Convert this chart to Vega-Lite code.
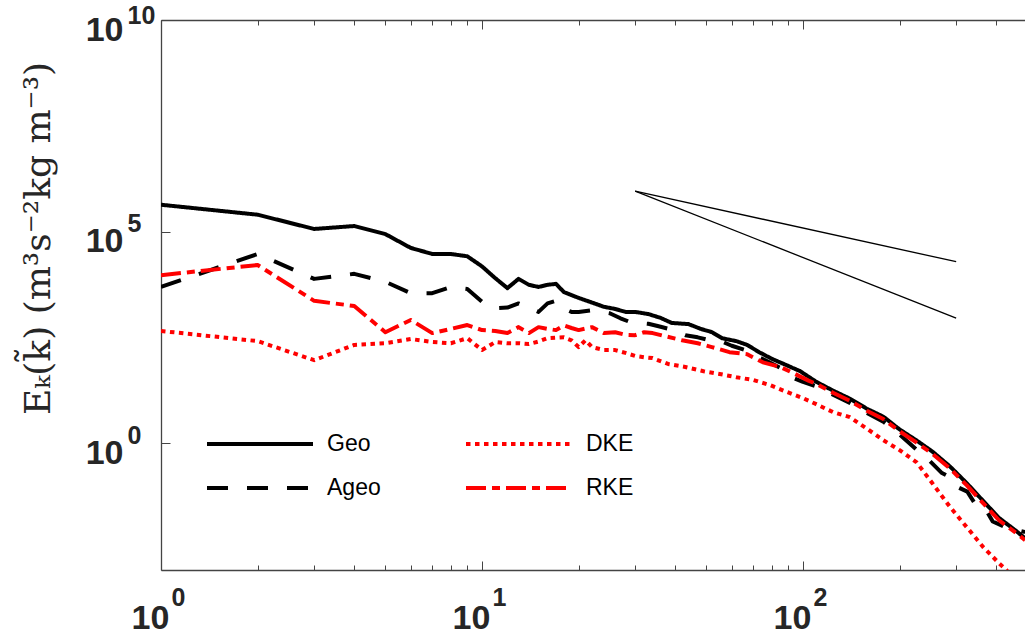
{
  "$schema": "https://vega.github.io/schema/vega-lite/v6.json",
  "width": 864,
  "height": 550,
  "autosize": {"type": "none"},
  "padding": {"left": 161, "top": 20, "right": 0, "bottom": 70},
  "background": "white",
  "config": {"view": {"stroke": null}, "axis": {"grid": false}},
  "datasets": {
    "spectra": [
      {"series": "Geo", "k": 1, "E": 430000}, {"series": "Geo", "k": 2, "E": 250000}, {"series": "Geo", "k": 3, "E": 115000},
      {"series": "Geo", "k": 4, "E": 135000}, {"series": "Geo", "k": 5, "E": 87000}, {"series": "Geo", "k": 6, "E": 41000},
      {"series": "Geo", "k": 7, "E": 29500}, {"series": "Geo", "k": 8, "E": 29500}, {"series": "Geo", "k": 9, "E": 26000},
      {"series": "Geo", "k": 10, "E": 15000}, {"series": "Geo", "k": 11, "E": 7900}, {"series": "Geo", "k": 12, "E": 4600},
      {"series": "Geo", "k": 13, "E": 7600}, {"series": "Geo", "k": 14, "E": 5500}, {"series": "Geo", "k": 15, "E": 4900},
      {"series": "Geo", "k": 16, "E": 5500}, {"series": "Geo", "k": 17, "E": 5800}, {"series": "Geo", "k": 18, "E": 3700},
      {"series": "Geo", "k": 20, "E": 2700}, {"series": "Geo", "k": 22, "E": 2100}, {"series": "Geo", "k": 24, "E": 1660},
      {"series": "Geo", "k": 26, "E": 1480}, {"series": "Geo", "k": 28, "E": 1260}, {"series": "Geo", "k": 30, "E": 1260},
      {"series": "Geo", "k": 33, "E": 1120}, {"series": "Geo", "k": 36, "E": 910}, {"series": "Geo", "k": 39, "E": 690},
      {"series": "Geo", "k": 44, "E": 650}, {"series": "Geo", "k": 48, "E": 500}, {"series": "Geo", "k": 52, "E": 420},
      {"series": "Geo", "k": 56, "E": 300}, {"series": "Geo", "k": 62, "E": 257}, {"series": "Geo", "k": 67, "E": 209},
      {"series": "Geo", "k": 73, "E": 141}, {"series": "Geo", "k": 80, "E": 98}, {"series": "Geo", "k": 89, "E": 69},
      {"series": "Geo", "k": 98, "E": 50}, {"series": "Geo", "k": 110, "E": 28}, {"series": "Geo", "k": 124, "E": 17.4},
      {"series": "Geo", "k": 140, "E": 11.2}, {"series": "Geo", "k": 158, "E": 6.5}, {"series": "Geo", "k": 178, "E": 4.2},
      {"series": "Geo", "k": 200, "E": 2.1}, {"series": "Geo", "k": 226, "E": 1.15}, {"series": "Geo", "k": 253, "E": 0.63},
      {"series": "Geo", "k": 287, "E": 0.28}, {"series": "Geo", "k": 324, "E": 0.112}, {"series": "Geo", "k": 364, "E": 0.043},
      {"series": "Geo", "k": 408, "E": 0.017}, {"series": "Geo", "k": 462, "E": 0.0083}, {"series": "Geo", "k": 492, "E": 0.0056},

      {"series": "Ageo", "k": 1, "E": 4900}, {"series": "Ageo", "k": 2, "E": 29500}, {"series": "Ageo", "k": 3, "E": 7600},
      {"series": "Ageo", "k": 4, "E": 10000}, {"series": "Ageo", "k": 5, "E": 6500}, {"series": "Ageo", "k": 6, "E": 3500},
      {"series": "Ageo", "k": 7, "E": 3500}, {"series": "Ageo", "k": 8, "E": 4900}, {"series": "Ageo", "k": 9, "E": 4400},
      {"series": "Ageo", "k": 10, "E": 2200}, {"series": "Ageo", "k": 11, "E": 1550}, {"series": "Ageo", "k": 12, "E": 1600},
      {"series": "Ageo", "k": 13, "E": 2000}, {"series": "Ageo", "k": 14, "E": 1600}, {"series": "Ageo", "k": 15, "E": 1260},
      {"series": "Ageo", "k": 16, "E": 2000}, {"series": "Ageo", "k": 17, "E": 2300}, {"series": "Ageo", "k": 18, "E": 1500},
      {"series": "Ageo", "k": 19, "E": 1260}, {"series": "Ageo", "k": 20, "E": 1260}, {"series": "Ageo", "k": 22, "E": 1380},
      {"series": "Ageo", "k": 25, "E": 1170}, {"series": "Ageo", "k": 27, "E": 890}, {"series": "Ageo", "k": 29, "E": 720},
      {"series": "Ageo", "k": 33, "E": 660}, {"series": "Ageo", "k": 36, "E": 560}, {"series": "Ageo", "k": 39, "E": 480},
      {"series": "Ageo", "k": 43, "E": 355}, {"series": "Ageo", "k": 47, "E": 316}, {"series": "Ageo", "k": 51, "E": 270},
      {"series": "Ageo", "k": 55, "E": 263}, {"series": "Ageo", "k": 60, "E": 200}, {"series": "Ageo", "k": 66, "E": 158},
      {"series": "Ageo", "k": 72, "E": 112}, {"series": "Ageo", "k": 78, "E": 83}, {"series": "Ageo", "k": 85, "E": 60},
      {"series": "Ageo", "k": 93, "E": 35}, {"series": "Ageo", "k": 100, "E": 28}, {"series": "Ageo", "k": 110, "E": 22},
      {"series": "Ageo", "k": 124, "E": 14}, {"series": "Ageo", "k": 140, "E": 8.9}, {"series": "Ageo", "k": 158, "E": 5.2},
      {"series": "Ageo", "k": 178, "E": 3.2}, {"series": "Ageo", "k": 200, "E": 1.6}, {"series": "Ageo", "k": 226, "E": 0.7},
      {"series": "Ageo", "k": 245, "E": 0.42}, {"series": "Ageo", "k": 270, "E": 0.2}, {"series": "Ageo", "k": 290, "E": 0.15},
      {"series": "Ageo", "k": 305, "E": 0.089}, {"series": "Ageo", "k": 325, "E": 0.071}, {"series": "Ageo", "k": 345, "E": 0.035},
      {"series": "Ageo", "k": 370, "E": 0.028}, {"series": "Ageo", "k": 390, "E": 0.014}, {"series": "Ageo", "k": 425, "E": 0.0105},
      {"series": "Ageo", "k": 460, "E": 0.0089}, {"series": "Ageo", "k": 492, "E": 0.0079},

      {"series": "DKE", "k": 1, "E": 447}, {"series": "DKE", "k": 2, "E": 257}, {"series": "DKE", "k": 3, "E": 91},
      {"series": "DKE", "k": 4, "E": 209}, {"series": "DKE", "k": 5, "E": 229}, {"series": "DKE", "k": 6, "E": 288},
      {"series": "DKE", "k": 7, "E": 245}, {"series": "DKE", "k": 8, "E": 229}, {"series": "DKE", "k": 9, "E": 302},
      {"series": "DKE", "k": 10, "E": 158}, {"series": "DKE", "k": 11, "E": 245}, {"series": "DKE", "k": 12, "E": 229},
      {"series": "DKE", "k": 13, "E": 229}, {"series": "DKE", "k": 14, "E": 219}, {"series": "DKE", "k": 15, "E": 251},
      {"series": "DKE", "k": 16, "E": 302}, {"series": "DKE", "k": 18, "E": 316}, {"series": "DKE", "k": 19, "E": 269},
      {"series": "DKE", "k": 20, "E": 186}, {"series": "DKE", "k": 21, "E": 269}, {"series": "DKE", "k": 22, "E": 186},
      {"series": "DKE", "k": 24, "E": 158}, {"series": "DKE", "k": 26, "E": 158}, {"series": "DKE", "k": 28, "E": 135},
      {"series": "DKE", "k": 30, "E": 115}, {"series": "DKE", "k": 32, "E": 107}, {"series": "DKE", "k": 34, "E": 102},
      {"series": "DKE", "k": 38, "E": 74}, {"series": "DKE", "k": 43, "E": 63}, {"series": "DKE", "k": 49, "E": 50},
      {"series": "DKE", "k": 55, "E": 43}, {"series": "DKE", "k": 62, "E": 36}, {"series": "DKE", "k": 70, "E": 31},
      {"series": "DKE", "k": 79, "E": 23.4}, {"series": "DKE", "k": 89, "E": 16.2}, {"series": "DKE", "k": 100, "E": 11.5},
      {"series": "DKE", "k": 110, "E": 8.3}, {"series": "DKE", "k": 124, "E": 5.4}, {"series": "DKE", "k": 140, "E": 4.1},
      {"series": "DKE", "k": 158, "E": 2.2}, {"series": "DKE", "k": 178, "E": 1.17}, {"series": "DKE", "k": 200, "E": 0.68},
      {"series": "DKE", "k": 226, "E": 0.35}, {"series": "DKE", "k": 253, "E": 0.112}, {"series": "DKE", "k": 287, "E": 0.031},
      {"series": "DKE", "k": 324, "E": 0.0102}, {"series": "DKE", "k": 364, "E": 0.0035}, {"series": "DKE", "k": 408, "E": 0.00145},
      {"series": "DKE", "k": 430, "E": 0.001}, {"series": "DKE", "k": 450, "E": 0.00063},

      {"series": "RKE", "k": 1, "E": 9300}, {"series": "RKE", "k": 2, "E": 16200}, {"series": "RKE", "k": 3, "E": 2300},
      {"series": "RKE", "k": 4, "E": 1740}, {"series": "RKE", "k": 5, "E": 417}, {"series": "RKE", "k": 6, "E": 813},
      {"series": "RKE", "k": 7, "E": 398}, {"series": "RKE", "k": 8, "E": 500}, {"series": "RKE", "k": 9, "E": 617},
      {"series": "RKE", "k": 10, "E": 468}, {"series": "RKE", "k": 11, "E": 447}, {"series": "RKE", "k": 12, "E": 398},
      {"series": "RKE", "k": 13, "E": 550}, {"series": "RKE", "k": 14, "E": 398}, {"series": "RKE", "k": 15, "E": 550},
      {"series": "RKE", "k": 16, "E": 500}, {"series": "RKE", "k": 17, "E": 468}, {"series": "RKE", "k": 18, "E": 603},
      {"series": "RKE", "k": 19, "E": 525}, {"series": "RKE", "k": 20, "E": 468}, {"series": "RKE", "k": 22, "E": 550},
      {"series": "RKE", "k": 24, "E": 398}, {"series": "RKE", "k": 26, "E": 417}, {"series": "RKE", "k": 28, "E": 363},
      {"series": "RKE", "k": 30, "E": 355}, {"series": "RKE", "k": 32, "E": 417}, {"series": "RKE", "k": 34, "E": 398},
      {"series": "RKE", "k": 37, "E": 339}, {"series": "RKE", "k": 42, "E": 269}, {"series": "RKE", "k": 47, "E": 229},
      {"series": "RKE", "k": 52, "E": 186}, {"series": "RKE", "k": 59, "E": 141}, {"series": "RKE", "k": 67, "E": 126},
      {"series": "RKE", "k": 75, "E": 81}, {"series": "RKE", "k": 85, "E": 63}, {"series": "RKE", "k": 95, "E": 42},
      {"series": "RKE", "k": 104, "E": 30}, {"series": "RKE", "k": 110, "E": 25}, {"series": "RKE", "k": 124, "E": 15.5},
      {"series": "RKE", "k": 140, "E": 10}, {"series": "RKE", "k": 158, "E": 5.8}, {"series": "RKE", "k": 178, "E": 3.7},
      {"series": "RKE", "k": 200, "E": 1.9}, {"series": "RKE", "k": 226, "E": 1.02}, {"series": "RKE", "k": 253, "E": 0.56},
      {"series": "RKE", "k": 287, "E": 0.25}, {"series": "RKE", "k": 324, "E": 0.1}, {"series": "RKE", "k": 364, "E": 0.038},
      {"series": "RKE", "k": 408, "E": 0.015}, {"series": "RKE", "k": 462, "E": 0.0074}, {"series": "RKE", "k": 492, "E": 0.0051}
    ],
    "slope53": [
      {"slope": "k^-5/3", "k": 30, "E": 900000}, {"slope": "k^-5/3", "k": 300, "E": 19400}
    ],
    "slope3": [
      {"slope": "k^-3", "k": 30, "E": 900000}, {"slope": "k^-3", "k": 300, "E": 900}
    ]
  },
  "layer": [
    {
      "data": {"name": "spectra"},
      "mark": {"type": "line", "strokeWidth": 4, "clip": true, "strokeJoin": "round"},
      "encoding": {
        "x": {
          "field": "k", "type": "quantitative",
          "scale": {"type": "log", "domain": [1, 491.6], "nice": false},
          "axis": {
            "orient": "bottom", "title": null,
            "values": [1, 2, 3, 4, 5, 6, 7, 8, 9, 10, 20, 30, 40, 50, 60, 70, 80, 90, 100, 200, 300, 400],
            "labelExpr": "datum.value == 1 || datum.value == 10 || datum.value == 100 ? '10' : ''",
            "tickSize": {"condition": {"test": "datum.value == 1 || datum.value == 10 || datum.value == 100", "value": -9}, "value": -5},
            "tickColor": "#444", "tickWidth": 1, "domainColor": "#444", "domainWidth": 1.3,
            "labelFont": "Liberation Sans", "labelFontWeight": "bold", "labelFontSize": 34, "labelColor": "#262626",
            "labelAlign": "center", "labelBaseline": "alphabetic", "labelPadding": 67, "labelOffset": -11,
            "labelOverlap": false, "labelFlush": false, "labelBound": false
          }
        },
        "y": {
          "field": "E", "type": "quantitative",
          "scale": {"type": "log", "domain": [0.001, 10000000000], "nice": false},
          "axis": {
            "orient": "left",
            "title": "Eₖ(k̃)  (m³s⁻²kg m⁻³)",
            "titleFont": "DejaVu Serif", "titleFontSize": 36, "titleFontWeight": "normal", "titleColor": "#262626",
            "titleX": -123, "titleY": 218, "titleAngle": -90, "titleAlign": "center", "titleBaseline": "middle",
            "values": [1, 100000, 10000000000],
            "labelExpr": "'10'",
            "tickSize": -9, "tickColor": "#444", "tickWidth": 1, "domainColor": "#444", "domainWidth": 1.3,
            "labelFont": "Liberation Sans", "labelFontWeight": "bold", "labelFontSize": 34, "labelColor": "#262626",
            "labelAlign": "right", "labelBaseline": "alphabetic", "labelPadding": 47, "labelOffset": 20,
            "labelOverlap": false, "labelFlush": false, "labelBound": false
          }
        },
        "color": {
          "field": "series", "type": "nominal",
          "scale": {"domain": ["Geo", "Ageo", "DKE", "RKE"], "range": ["#000000", "#000000", "#ff0000", "#ff0000"]},
          "legend": {
            "title": null, "orient": "none", "legendX": 44, "legendY": 412, "columns": 2,
            "symbolType": "stroke", "symbolSize": 11236, "symbolStrokeWidth": 4, "clipHeight": 24,
            "labelFont": "Liberation Sans", "labelFontSize": 23, "labelColor": "#000000", "labelOffset": 12,
            "rowPadding": 20, "columnPadding": 83, "padding": 0
          }
        },
        "strokeDash": {
          "field": "series", "type": "nominal",
          "scale": {"domain": ["Geo", "Ageo", "DKE", "RKE"], "range": [[1, 0], [21, 19], [4.5, 4.5], [20, 6, 8, 6]]},
          "legend": {
            "title": null, "orient": "none", "legendX": 44, "legendY": 412, "columns": 2,
            "symbolType": "stroke", "symbolSize": 11236, "symbolStrokeWidth": 4, "clipHeight": 24,
            "labelFont": "Liberation Sans", "labelFontSize": 23, "labelColor": "#000000", "labelOffset": 12,
            "rowPadding": 20, "columnPadding": 83, "padding": 0
          }
        }
      }
    },
    {
      "data": {"name": "slope53"},
      "mark": {"type": "line", "strokeWidth": 1.3, "color": "#000000"},
      "encoding": {
        "x": {
          "field": "k", "type": "quantitative",
          "axis": {
            "orient": "top", "title": null, "labels": false,
            "values": [1, 2, 3, 4, 5, 6, 7, 8, 9, 10, 20, 30, 40, 50, 60, 70, 80, 90, 100, 200, 300, 400],
            "tickSize": {"condition": {"test": "datum.value == 1 || datum.value == 10 || datum.value == 100", "value": -9}, "value": -5},
            "tickColor": "#444", "tickWidth": 1, "domainColor": "#444", "domainWidth": 1.3
          }
        },
        "y": {
          "field": "E", "type": "quantitative",
          "axis": {
            "orient": "left", "title": null, "domain": false, "ticks": false, "tickSize": 0,
            "values": [1, 100000, 10000000000],
            "labelExpr": "datum.value == 1 ? '0' : datum.value == 100000 ? '5' : '10'",
            "labelFont": "Liberation Sans", "labelFontWeight": "bold", "labelFontSize": 25, "labelColor": "#262626",
            "labelAlign": "left", "labelBaseline": "alphabetic", "labelPadding": 34,
            "labelOffset": {"condition": {"test": "datum.value == 10000000000", "value": 3}, "value": 0},
            "labelOverlap": false, "labelFlush": false, "labelBound": false
          }
        }
      }
    },
    {
      "data": {"name": "slope3"},
      "mark": {"type": "line", "strokeWidth": 1.3, "color": "#000000"},
      "encoding": {
        "x": {
          "field": "k", "type": "quantitative",
          "axis": {
            "orient": "bottom", "title": null, "domain": false, "ticks": false, "tickSize": 0,
            "values": [1, 10, 100],
            "labelExpr": "datum.value == 1 ? '0' : datum.value == 10 ? '1' : '2'",
            "labelFont": "Liberation Sans", "labelFontWeight": "bold", "labelFontSize": 25, "labelColor": "#262626",
            "labelAlign": "left", "labelBaseline": "alphabetic", "labelPadding": 35, "labelOffset": 10,
            "labelOverlap": false, "labelFlush": false, "labelBound": false
          }
        },
        "y": {"field": "E", "type": "quantitative", "axis": null}
      }
    }
  ],
  "resolve": {"axis": {"x": "independent", "y": "independent"}}
}
